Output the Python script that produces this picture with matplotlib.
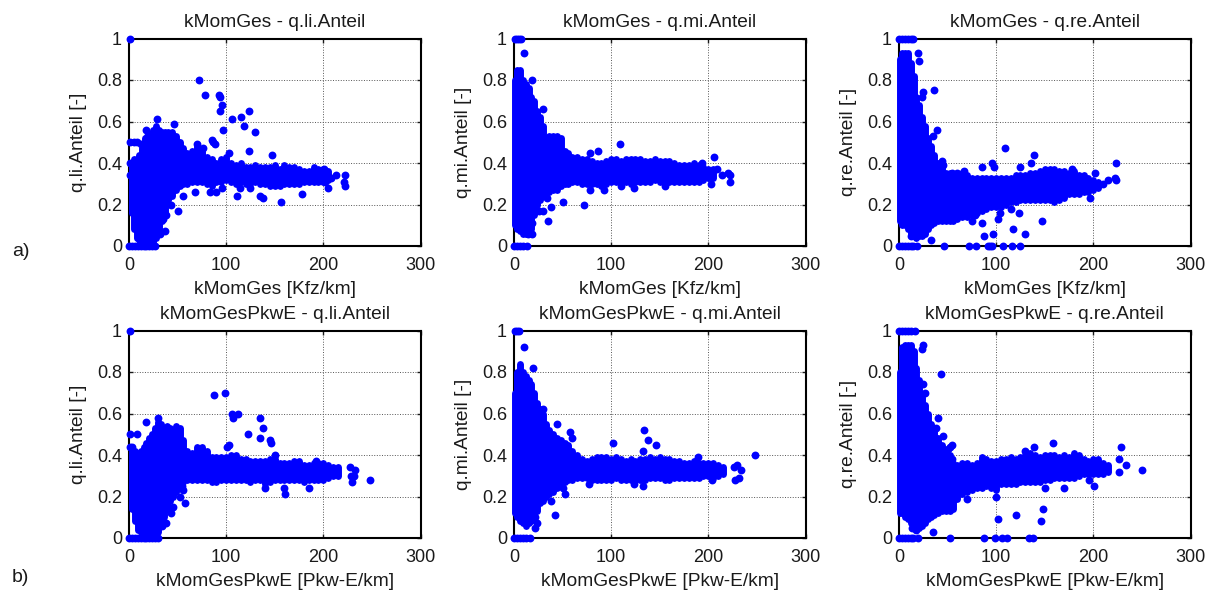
# libraries
import matplotlib
matplotlib.use('Agg')
import matplotlib.pyplot as plt

plt.rcParams['font.family'] = ['Liberation Sans', 'DejaVu Sans']

# The clouds are too dense to read single points, so each
# one is kept as a lower and upper edge per x column, the loose points separately.

# a) kMomGes - q.li.Anteil
a_li_x = [3,5,8,10,13,16,19,22,25,28,31,34,37,40,44,48,52,56,60,65,70,75,80,85,90,95,100,105,110,115,120,125,130,135,140,145,150,155,160,165,170,175,180,185,190,195,200,205]
a_li_low = [.16,.08,.04,.03,.02,.01,0,0,.02,.04,.06,.12,.16,.22,.24,.27,.29,.30,.30,.31,.31,.31,.30,.29,.31,.31,.32,.31,.30,.31,.30,.30,.31,.30,.30,.29,.29,.29,.30,.30,.30,.30,.31,.31,.31,.31,.31,.32]
a_li_high = [.40,.42,.42,.44,.47,.52,.53,.54,.56,.58,.56,.55,.55,.55,.55,.53,.50,.47,.45,.46,.48,.46,.43,.42,.40,.42,.43,.40,.39,.40,.38,.38,.39,.38,.38,.38,.39,.37,.39,.38,.38,.37,.36,.36,.38,.37,.37,.36]
a_li_pts_x = [1,1,5,8,12,1,1,17,29,46,72,78,93,94,96,94,106,115,124,118,97,130,124,86,85,88,37,50,56,68,83,90,96,111,114,125,135,138,156,178,205,222,221,222,213,208,202,201,147,103,70,76,38,35,43,32]
a_li_pts_y = [1,.5,.5,.5,.49,.4,.34,.56,.61,.59,.80,.73,.73,.72,.68,.65,.61,.62,.65,.58,.56,.55,.46,.5,.51,.49,.07,.17,.24,.26,.26,.26,.28,.24,.28,.28,.24,.23,.21,.25,.28,.29,.31,.34,.34,.33,.31,.37,.44,.45,.49,.47,.15,.13,.2,.06]
a_li_zero_x = [0,3,6,9,12,15,18,21,24,27]
a_li_one_x = []

# a) kMomGes - q.mi.Anteil
a_mi_x = [1,3,6,9,12,15,18,21,24,27,30,33,36,40,44,48,52,56,60,65,70,75,80,85,90,95,100,105,110,115,120,125,130,135,140,145,150,155,160,165,170,175,180,185,190,195,200,205]
a_mi_low = [.10,.08,.07,.06,.06,.07,.08,.15,.20,.22,.24,.25,.26,.27,.27,.29,.30,.30,.31,.31,.30,.30,.30,.30,.29,.30,.31,.31,.31,.31,.30,.31,.31,.31,.31,.32,.31,.31,.31,.31,.31,.31,.31,.31,.31,.32,.33,.33]
a_mi_high = [.80,.85,.85,.80,.78,.76,.72,.70,.65,.62,.58,.52,.53,.53,.53,.52,.46,.45,.43,.43,.42,.42,.41,.40,.40,.41,.42,.42,.41,.42,.42,.42,.42,.41,.41,.42,.41,.41,.41,.40,.39,.39,.39,.40,.39,.38,.37,.37]
a_mi_pts_x = [10,19,30,35,19,19,14,72,50,78,93,109,86,78,123,110,155,203,222,222,220,214,209,206,193,30,26,38,34]
a_mi_pts_y = [.93,.80,.66,.12,.06,.11,.06,.20,.21,.27,.27,.49,.46,.45,.28,.29,.29,.30,.31,.34,.35,.34,.37,.43,.40,.17,.17,.19,.23]
a_mi_zero_x = [0,3,6,9,13]
a_mi_one_x = [1,3,5,7]

# a) kMomGes - q.re.Anteil
a_re_x = [1,3,6,9,12,15,18,21,24,27,30,33,36,40,44,48,52,56,60,65,70,75,80,85,90,95,100,105,110,115,120,125,130,135,140,145,150,155,160,165,170,175,180,185,190,195,200,205]
a_re_low = [.12,.10,.10,.08,.06,.05,.04,.05,.05,.06,.08,.10,.11,.12,.12,.12,.12,.12,.13,.14,.14,.15,.16,.17,.18,.19,.19,.19,.20,.21,.21,.22,.22,.22,.22,.22,.22,.22,.21,.22,.23,.25,.25,.25,.26,.26,.27,.28]
a_re_high = [.90,.93,.93,.93,.88,.82,.72,.68,.62,.58,.52,.48,.44,.40,.38,.35,.35,.34,.34,.35,.34,.33,.33,.33,.33,.33,.33,.33,.33,.33,.34,.34,.34,.35,.35,.36,.37,.37,.37,.36,.36,.35,.36,.34,.34,.33,.32,.31]
a_re_pts_x = [20,21,25,24,36,39,35,44,45,55,60,67,85,96,98,109,125,136,139,178,202,223,222,223,215,210,197,147,130,117,124,97,87,85,102,104,115,78,75,33,17,12]
a_re_pts_y = [.93,.89,.74,.72,.75,.56,.53,.41,.39,.35,.35,.36,.38,.40,.38,.47,.38,.40,.44,.37,.35,.40,.33,.32,.32,.30,.23,.12,.06,.08,.16,.06,.05,.11,.13,.16,.18,.15,.12,.03,.05,.05]
a_re_zero_x = [0,3,6,9,12,14,19,46,72,79,92,94,96,107,116,125]
a_re_one_x = [0,3,6,9,12,14]

# b) kMomGesPkwE - q.li.Anteil
b_li_x = [3,6,9,12,15,18,21,24,27,30,33,36,39,42,45,48,52,56,60,65,70,75,80,85,90,95,100,105,110,115,120,125,130,135,140,145,150,155,160,165,170,175,180,185,190,195,200,205,210,215]
b_li_low = [.14,.08,.04,.03,.02,.01,0,0,.01,.03,.06,.10,.14,.18,.20,.22,.24,.27,.28,.28,.28,.28,.28,.27,.27,.28,.28,.28,.28,.28,.28,.27,.28,.28,.26,.27,.28,.28,.28,.28,.28,.28,.27,.28,.28,.28,.28,.29,.30,.30]
b_li_high = [.42,.42,.41,.42,.44,.46,.48,.50,.53,.56,.55,.53,.54,.53,.52,.54,.53,.47,.42,.41,.44,.44,.42,.39,.39,.39,.39,.40,.40,.38,.38,.37,.37,.37,.37,.38,.38,.36,.36,.36,.37,.37,.35,.35,.36,.36,.36,.35,.34,.34]
b_li_pts_x = [1,1,8,1,3,17,30,87,99,106,107,112,122,135,138,135,145,146,150,103,101,58,43,45,38,34,52,56,55,160,161,140,185,230,248,233,227,228,232,192]
b_li_pts_y = [1,.5,.5,.44,.44,.56,.58,.69,.70,.60,.58,.60,.50,.58,.53,.48,.47,.46,.40,.45,.44,.17,.12,.15,.07,.06,.20,.23,.25,.24,.21,.24,.24,.27,.28,.33,.34,.30,.30,.37]
b_li_zero_x = [0,3,6,9,12,15,18,21,24,27,30]
b_li_one_x = []

# b) kMomGesPkwE - q.mi.Anteil
b_mi_x = [1,3,6,9,12,15,18,21,24,27,30,33,36,40,44,48,52,56,60,65,70,75,80,85,90,95,100,105,110,115,120,125,130,135,140,145,150,155,160,165,170,175,180,185,190,195,200,205,210,215]
b_mi_low = [.12,.10,.08,.07,.06,.07,.08,.10,.13,.17,.18,.20,.21,.22,.24,.26,.27,.28,.28,.29,.29,.29,.28,.28,.28,.28,.28,.29,.28,.28,.28,.28,.28,.28,.29,.29,.29,.28,.28,.29,.29,.29,.29,.29,.29,.30,.30,.29,.30,.31]
b_mi_high = [.70,.80,.84,.80,.78,.76,.74,.70,.65,.62,.60,.55,.52,.50,.48,.47,.46,.45,.42,.40,.38,.37,.38,.39,.39,.39,.38,.39,.38,.37,.38,.37,.38,.38,.39,.38,.39,.38,.38,.37,.37,.36,.36,.37,.36,.36,.36,.36,.35,.34]
b_mi_pts_x = [10,20,42,38,53,50,22,24,22,44,58,60,102,134,138,146,133,133,124,77,204,227,232,248,226,230,234,189,30]
b_mi_pts_y = [.92,.82,.11,.18,.21,.24,.10,.07,.05,.55,.51,.48,.46,.52,.47,.45,.42,.25,.26,.26,.28,.28,.29,.40,.34,.35,.33,.39,.62]
b_mi_zero_x = [0,3,6,9,12,16]
b_mi_one_x = [1,3,5]

# b) kMomGesPkwE - q.re.Anteil
b_re_x = [1,3,6,9,12,15,18,21,24,27,30,33,36,40,44,48,52,56,60,65,70,75,80,85,90,95,100,105,110,115,120,125,130,135,140,145,150,155,160,165,170,175,180,185,190,195,200,205,210,215]
b_re_low = [.12,.12,.10,.09,.07,.07,.06,.05,.06,.07,.09,.10,.11,.12,.13,.13,.13,.14,.19,.21,.22,.23,.24,.24,.25,.24,.23,.26,.26,.26,.26,.27,.27,.27,.27,.27,.28,.28,.29,.29,.29,.29,.29,.30,.31,.31,.31,.31,.31,.32]
b_re_high = [.80,.92,.93,.93,.93,.90,.82,.76,.68,.64,.60,.55,.52,.48,.45,.42,.40,.36,.35,.36,.36,.35,.36,.39,.38,.37,.37,.38,.38,.39,.38,.39,.40,.41,.40,.39,.40,.40,.40,.39,.40,.39,.41,.40,.38,.37,.38,.38,.36,.35]
b_re_pts_x = [25,24,43,25,27,40,38,45,55,52,50,55,159,228,139,130,250,234,226,226,201,170,150,196,100,70,148,146,120,102,35,17,13]
b_re_pts_y = [.93,.91,.79,.74,.70,.58,.53,.49,.45,.44,.43,.38,.46,.44,.44,.42,.33,.35,.32,.38,.25,.24,.24,.28,.20,.19,.14,.08,.11,.09,.03,.04,.05]
b_re_zero_x = [0,3,6,9,12,14,20,52,87,99,106,111,134,138]
b_re_one_x = [0,3,6,9,12,16]

x_ticks = [0, 100, 200, 300]
y_ticks = [0, 0.2, 0.4, 0.6, 0.8, 1]
y_tick_labels = ['0', '0.2', '0.4', '0.6', '0.8', '1']

W, H = 1215, 592
BLUE = '#0000ff'
TEXT = '#1a1a1a'


def panel(fig, left, top, title, xlabel, ylabel, xs, low, high, px, py, zero_x, one_x):
    ax = fig.add_axes([left / W, 1 - (top + 207.5) / H, 291.5 / W, 207.5 / H])
    ax.vlines(xs, low, high, color=BLUE, lw=5, capstyle='round', clip_on=False, zorder=3)
    ax.scatter(px, py, s=32, color=BLUE, linewidths=0, clip_on=False, zorder=3)
    ax.scatter(zero_x, [0] * len(zero_x), s=32, color=BLUE, linewidths=0, clip_on=False, zorder=3)
    ax.scatter(one_x, [1] * len(one_x), s=32, color=BLUE, linewidths=0, clip_on=False, zorder=3)
    ax.set_xlim(0, 300)
    ax.set_ylim(0, 1)
    ax.set_xticks(x_ticks)
    ax.set_yticks(y_ticks)
    ax.set_yticklabels(y_tick_labels)
    ax.grid(True, color='#555555', linestyle=':', linewidth=0.7)
    ax.set_axisbelow(True)
    ax.tick_params(direction='in', length=3, width=1, top=True, right=True, labelsize=13, colors=TEXT)
    ax.tick_params(axis='x', pad=8)
    ax.tick_params(axis='y', pad=5)
    for s in ax.spines.values():
        s.set_linewidth(1.5)
    ax.set_title(title, fontsize=13.8, pad=8, color=TEXT)
    ax.set_xlabel(xlabel, fontsize=13.8, labelpad=5, color=TEXT)
    ax.set_ylabel(ylabel, fontsize=13.8, labelpad=7, color=TEXT)
    return ax


fig = plt.figure(figsize=(W / 100, H / 100), dpi=100)

a_label = 'kMomGes [Kfz/km]'
b_label = 'kMomGesPkwE [Pkw-E/km]'
panel(fig, 129, 38.5, 'kMomGes - q.li.Anteil', a_label, 'q.li.Anteil [-]', a_li_x, a_li_low, a_li_high, a_li_pts_x, a_li_pts_y, a_li_zero_x, a_li_one_x)
panel(fig, 514, 38.5, 'kMomGes - q.mi.Anteil', a_label, 'q.mi.Anteil [-]', a_mi_x, a_mi_low, a_mi_high, a_mi_pts_x, a_mi_pts_y, a_mi_zero_x, a_mi_one_x)
panel(fig, 899, 38.5, 'kMomGes - q.re.Anteil', a_label, 'q.re.Anteil [-]', a_re_x, a_re_low, a_re_high, a_re_pts_x, a_re_pts_y, a_re_zero_x, a_re_one_x)
panel(fig, 129, 330.5, 'kMomGesPkwE - q.li.Anteil', b_label, 'q.li.Anteil [-]', b_li_x, b_li_low, b_li_high, b_li_pts_x, b_li_pts_y, b_li_zero_x, b_li_one_x)
panel(fig, 514, 330.5, 'kMomGesPkwE - q.mi.Anteil', b_label, 'q.mi.Anteil [-]', b_mi_x, b_mi_low, b_mi_high, b_mi_pts_x, b_mi_pts_y, b_mi_zero_x, b_mi_one_x)
panel(fig, 899, 330.5, 'kMomGesPkwE - q.re.Anteil', b_label, 'q.re.Anteil [-]', b_re_x, b_re_low, b_re_high, b_re_pts_x, b_re_pts_y, b_re_zero_x, b_re_one_x)

fig.text(12 / W, 1 - 252 / H, 'a)', fontsize=14, va='center', color=TEXT)
fig.text(12 / W, 1 - 578 / H, 'b)', fontsize=14, va='center', color=TEXT)

fig.savefig('out.png', dpi=100)
